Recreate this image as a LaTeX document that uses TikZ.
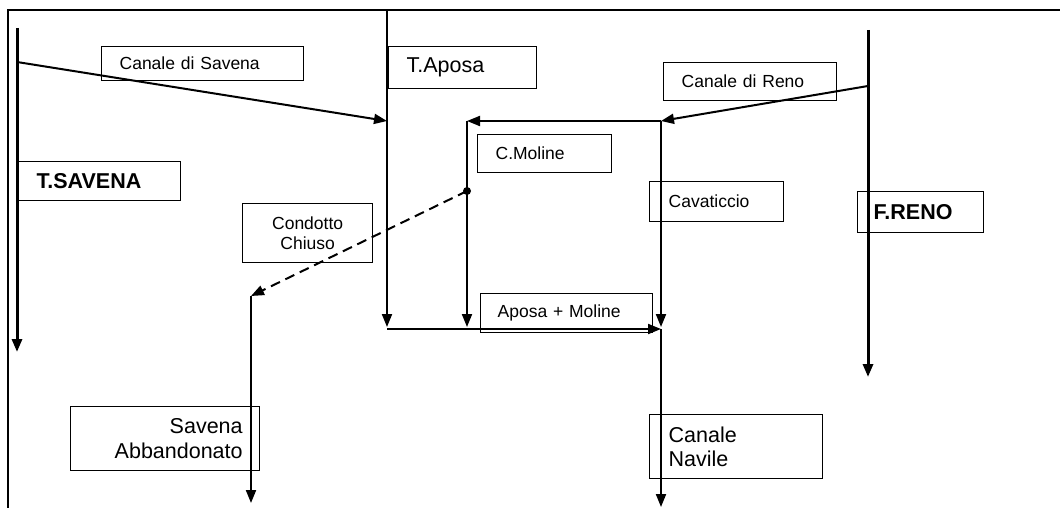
\documentclass[tikz,border=0pt]{standalone}
\usepackage{fontspec}
\setmainfont{Liberation Sans}
\usetikzlibrary{arrows.meta, positioning}

\begin{document}
\begin{tikzpicture}[
        x=1pt, y=-1pt,
        box/.style={draw, line width=1.3pt, inner ysep=0pt, anchor=north west, font=\fontsize{17.5}{20}\selectfont},
        bigbox/.style={box, font=\fontsize{21.5}{24.5}\selectfont},
        river/.style={line width=2pt, -{Triangle[length=13pt,width=10pt]}},
        mainriver/.style={river, line width=3pt},
        closed/.style={river, dash pattern=on 10pt off 6pt}
    ]
    \useasboundingbox (0,0) rectangle (1062,508);

    % Frame
    \coordinate (fbl) at (8,508);
    \coordinate (ftl) at (8,10);
    \coordinate (ftr) at (1060,10);
    \draw[line width=1.5pt] (fbl) -- (ftl) -- (ftr);

    % Labels
    \node[box, inner xsep=18pt, text width=166pt, minimum height=34pt, align=left] (savcan) at (101,46) {Canale di Savena};
    \node[bigbox, inner xsep=18pt, text width=126pt, minimum height=39pt, align=left, font=\fontsize{21.5}{24.5}\selectfont\bfseries] (tsav) at (18,161) {T.SAVENA};
    \node[bigbox, inner xsep=18pt, text width=112pt, minimum height=42pt, align=left] (taposa) at (388,46) {T.Aposa};
    \node[box, inner xsep=18pt, text width=137pt, minimum height=38pt, align=left] (renocan) at (663,62) {Canale di Reno};
    \node[box, inner xsep=18pt, text width=98pt, minimum height=38pt, align=left] (moline) at (477,134) {C.Moline};
    \node[box, inner xsep=19pt, text width=96pt, minimum height=40pt, align=left] (cavat) at (649,181) {Cavaticcio};
    \node[bigbox, inner xsep=16pt, text width=94pt, minimum height=41pt, align=left, font=\fontsize{21.5}{24.5}\selectfont\bfseries] (freno) at (857,191) {F.RENO};
    \node[box, inner xsep=6pt, text width=118pt, minimum height=59pt, align=center] (condotto) at (242,203) {Condotto\\Chiuso};
    \node[box, inner xsep=17pt, text width=138pt, minimum height=39pt, align=left] (aposamol) at (480,293) {Aposa + Moline};
    \node[bigbox, inner xsep=17pt, text width=155pt, minimum height=64pt, align=right] (savabb) at (70,406) {Savena\\Abbandonato};
    \node[bigbox, inner xsep=19pt, text width=135pt, minimum height=64pt, align=left] (navile) at (649,414) {Canale\\Navile};

    % Junctions
    \coordinate (savtop) at (17,28);
    \coordinate (savout) at (17,62);
    \coordinate (savend) at (17,352);
    \coordinate (apotop) at (387,10);
    \coordinate (apoin) at (387,121);
    \coordinate (apoend) at (387,327);
    \coordinate (apojoin) at (387,329);
    \coordinate (renotop) at (868,30);
    \coordinate (renoout) at (868,86);
    \coordinate (renoend) at (868,377);
    \coordinate (cavtop) at (661,121);
    \coordinate (cavend) at (661,327);
    \coordinate (navtop) at (661,329);
    \coordinate (navend) at (661,507);
    \coordinate (moltop) at (467,121);
    \coordinate (molsplit) at (467,191);
    \coordinate (molend) at (467,327);
    \coordinate (abbtop) at (251,296);
    \coordinate (abbend) at (251,503);

    % Rivers and canals
    \draw[mainriver] (savtop) -- (savend);
    \draw[mainriver] (renotop) -- (renoend);
    \draw[river] (savout) -- (apoin);
    \draw[river] (apotop) -- (apoend);
    \draw[river] (renoout) -- (cavtop);
    \draw[river] (cavtop) -- (moltop);
    \draw[river] (moltop) -- (molend);
    \draw[river] (cavtop) -- (cavend);
    \draw[closed] (molsplit) -- (abbtop);
    \fill (molsplit) circle (4pt);
    \draw[river] (abbtop) -- (abbend);

    % Confluence
    \draw[river] (apojoin) -- (navtop);
    \draw[river] (navtop) -- (navend);

    \end{tikzpicture}
\end{document}
